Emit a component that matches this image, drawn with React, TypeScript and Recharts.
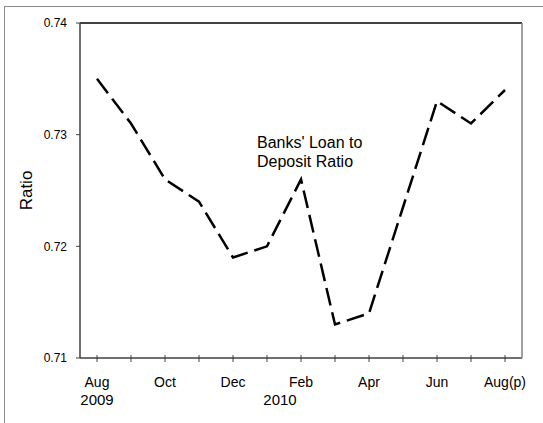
import { LineChart, Line, XAxis, YAxis, ReferenceLine } from "recharts";

// Banks' loan to deposit ratio, Aug 2009 - Aug 2010 (p)
const months = [
  "Aug 2009", "Sep 2009", "Oct 2009", "Nov 2009", "Dec 2009",
  "Jan 2010", "Feb 2010", "Mar 2010", "Apr 2010", "May 2010",
  "Jun 2010", "Jul 2010", "Aug 2010",
];
const ratio = [
  0.735, 0.731, 0.726, 0.724, 0.719, 0.72, 0.726, 0.713, 0.714, 0.7235,
  0.733, 0.731, 0.734,
];
const monthLabels = ["Aug", "", "Oct", "", "Dec", "", "Feb", "", "Apr", "", "Jun", "", "Aug(p)"];
const yearLabels = ["2009", "", "", "", "", "2010", "", "", "", "", "", "", ""];
const yTicks = [0.71, 0.72, 0.73, 0.74];

const data = months.map((m, i) => ({ month: m, ratio: ratio[i] }));

const FONT = "'Liberation Sans', Arial, sans-serif";

function MonthTick(props: any) {
  const { x, y, index } = props;
  const year = yearLabels[index];
  return (
    <g>
      <line x1={x} x2={x} y1={y - 3} y2={y + 4} stroke="#404040" strokeWidth={1} />
      {monthLabels[index] && (
        <text x={x} y={y + 29} textAnchor="middle" fontSize={14} fill="#000" fontFamily={FONT}>
          {monthLabels[index]}
        </text>
      )}
      {year && (
        <text
          x={x + (index === 0 ? 0 : 13)}
          y={y + 47}
          textAnchor="middle"
          fontSize={15}
          fill="#000"
          fontFamily={FONT}
        >
          {year}
        </text>
      )}
    </g>
  );
}

export default function App() {
  return (
    <div style={{ position: "absolute", left: 0, top: 0, width: 543, height: 423, background: "#fff" }}>
      <div
        style={{
          position: "absolute",
          left: 4,
          top: 6,
          right: -4,
          bottom: -4,
          borderLeft: "1.5px solid #8a8a8a",
          borderTop: "1.5px solid #8a8a8a",
        }}
      />
      <LineChart
        width={543}
        height={423}
        data={data}
        margin={{ top: 23, right: 0, bottom: 0, left: 0 }}
        style={{ position: "absolute", left: 0, top: 0 }}
      >
        <XAxis
          dataKey="month"
          height={65}
          interval={0}
          padding={{ left: 17, right: 17 }}
          tickSize={0}
          tickMargin={0}
          tickLine={false}
          axisLine={{ stroke: "#404040", strokeWidth: 1.5 }}
          tick={<MonthTick />}
        />
        <YAxis
          domain={[0.71, 0.74]}
          ticks={yTicks}
          width={80}
          tickSize={4}
          tickMargin={9}
          tickFormatter={(v: number) => v.toFixed(2)}
          tick={{ fontSize: 12, fill: "#000", fontFamily: FONT }}
          tickLine={{ stroke: "#404040" }}
          axisLine={{ stroke: "#404040", strokeWidth: 1.5 }}
          label={{
            value: "Ratio",
            angle: -90,
            position: "insideLeft",
            offset: 26,
            style: { fontSize: 17, fill: "#000", fontFamily: FONT, textAnchor: "middle" },
          }}
        />
        <YAxis
          yAxisId="right"
          orientation="right"
          width={21}
          tick={false}
          tickLine={false}
          axisLine={{ stroke: "#808080", strokeWidth: 1.5 }}
        />
        <ReferenceLine y={0.74} stroke="#000" strokeWidth={1.5} />
        <Line
          type="linear"
          dataKey="ratio"
          stroke="#000"
          strokeWidth={2.5}
          strokeDasharray="18 7"
          dot={false}
          activeDot={false}
          isAnimationActive={false}
        />
        <text x={257} y={148} fontSize={16} fill="#000" fontFamily={FONT}>
          <tspan x={257}>Banks' Loan to</tspan>
          <tspan x={257} dy={19}>Deposit Ratio</tspan>
        </text>
      </LineChart>
    </div>
  );
}
